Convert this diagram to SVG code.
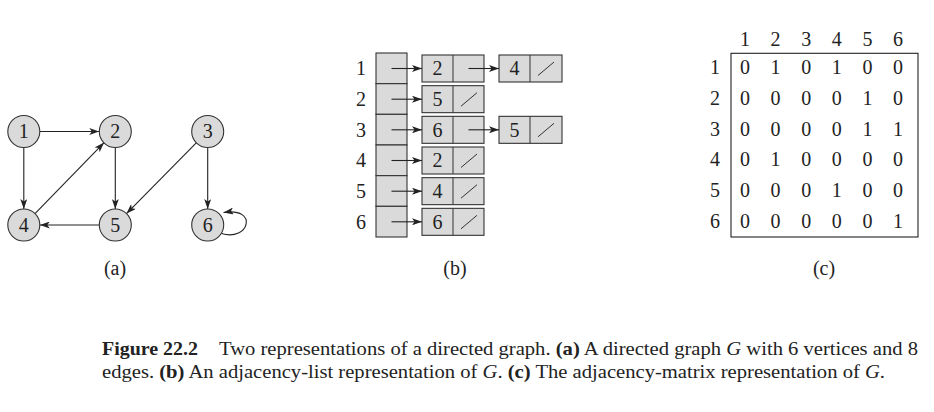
<svg xmlns="http://www.w3.org/2000/svg" width="934" height="412" viewBox="0 0 934 412">
<defs>
<style>
.t{font-family:"Liberation Serif","Times New Roman",serif;font-size:20px;fill:#222;text-anchor:middle}
.cap{font-family:"Liberation Serif","Times New Roman",serif;font-size:19.5px;fill:#222}
.b{font-weight:bold}
.i{font-style:italic}
.nd{fill:#dadada;stroke:#333;stroke-width:1.1}
.e{fill:none;stroke:#222;stroke-width:1.1;marker-end:url(#ah)}
.sl{stroke:#333;stroke-width:1}
.bx{fill:none;stroke:#222;stroke-width:1.1}
</style>
<marker id="ah" viewBox="0 0 10 7" refX="10" refY="3.5" markerWidth="10" markerHeight="7" markerUnits="userSpaceOnUse" orient="auto">
<path d="M0,0 L10,3.5 L0,7 L2.5,3.5 z" fill="#222"/>
</marker>
</defs>
<rect width="934" height="412" fill="#fff"/>

<!-- (a) graph -->
<g id="connectors">
<line class="e" x1="39.8" y1="131.5" x2="99.3" y2="131.5"/>
<line class="e" x1="23.8" y1="147.5" x2="23.8" y2="209"/>
<line class="e" x1="35" y1="213.6" x2="104.1" y2="142.6"/>
<line class="e" x1="115.3" y1="147.5" x2="115.3" y2="209"/>
<line class="e" x1="99.3" y1="225" x2="39.8" y2="225"/>
<line class="e" x1="196.5" y1="142.6" x2="126.5" y2="213.6"/>
<line class="e" x1="207.7" y1="147.5" x2="207.7" y2="209"/>
<path class="e" d="M221.5,233.5 C249,242 259,207 223.5,212.5"/>
</g>
<g id="node1"><circle class="nd" cx="23.8" cy="131.5" r="16"/><text class="t" x="23.8" y="138.3">1</text></g>
<g id="node2"><circle class="nd" cx="115.3" cy="131.5" r="16"/><text class="t" x="115.3" y="138.3">2</text></g>
<g id="node3"><circle class="nd" cx="207.7" cy="131.5" r="16"/><text class="t" x="207.7" y="138.3">3</text></g>
<g id="node4"><circle class="nd" cx="23.8" cy="225" r="16"/><text class="t" x="23.8" y="231.8">4</text></g>
<g id="node5"><circle class="nd" cx="115.3" cy="225" r="16"/><text class="t" x="115.3" y="231.8">5</text></g>
<g id="node6"><circle class="nd" cx="207.7" cy="225" r="16"/><text class="t" x="207.7" y="231.8">6</text></g>
<text class="t" x="115" y="275">(a)</text>

<!-- (b) adjacency list -->
<g id="adjlist">
<g id="array">
<rect class="nd" x="376" y="53" width="31" height="30.67"/>
<rect class="nd" x="376" y="83.67" width="31" height="30.67"/>
<rect class="nd" x="376" y="114.33" width="31" height="30.67"/>
<rect class="nd" x="376" y="145" width="31" height="30.67"/>
<rect class="nd" x="376" y="175.67" width="31" height="30.67"/>
<rect class="nd" x="376" y="206.33" width="31" height="30.67"/>
<text class="t" x="361" y="75.3">1</text>
<text class="t" x="361" y="106">2</text>
<text class="t" x="361" y="136.6">3</text>
<text class="t" x="361" y="167.3">4</text>
<text class="t" x="361" y="198">5</text>
<text class="t" x="361" y="228.6">6</text>
</g>
<g id="listnodes">
<rect class="nd" x="422" y="55" width="62" height="27"/><line class="sl" x1="453" y1="55" x2="453" y2="82"/><text class="t" x="437.5" y="75.3">2</text>
<rect class="nd" x="499" y="55" width="63" height="27"/><line class="sl" x1="530" y1="55" x2="530" y2="82"/><text class="t" x="514.5" y="75.3">4</text><line class="sl" x1="538" y1="75.5" x2="554" y2="62"/>
<rect class="nd" x="422" y="85.67" width="62" height="27"/><line class="sl" x1="453" y1="85.67" x2="453" y2="112.67"/><text class="t" x="437.5" y="106">5</text><line class="sl" x1="461" y1="106.2" x2="477" y2="92.7"/>
<rect class="nd" x="422" y="116.33" width="62" height="27"/><line class="sl" x1="453" y1="116.33" x2="453" y2="143.33"/><text class="t" x="437.5" y="136.6">6</text>
<rect class="nd" x="499" y="116.33" width="63" height="27"/><line class="sl" x1="530" y1="116.33" x2="530" y2="143.33"/><text class="t" x="514.5" y="136.6">5</text><line class="sl" x1="538" y1="136.8" x2="554" y2="123.3"/>
<rect class="nd" x="422" y="147" width="62" height="27"/><line class="sl" x1="453" y1="147" x2="453" y2="174"/><text class="t" x="437.5" y="167.3">2</text><line class="sl" x1="461" y1="167.5" x2="477" y2="154"/>
<rect class="nd" x="422" y="177.67" width="62" height="27"/><line class="sl" x1="453" y1="177.67" x2="453" y2="204.67"/><text class="t" x="437.5" y="198">4</text><line class="sl" x1="461" y1="198.2" x2="477" y2="184.7"/>
<rect class="nd" x="422" y="208.33" width="62" height="27"/><line class="sl" x1="453" y1="208.33" x2="453" y2="235.33"/><text class="t" x="437.5" y="228.6">6</text><line class="sl" x1="461" y1="228.8" x2="477" y2="215.3"/>
</g>
<g id="listarrows">
<line class="e" x1="391.5" y1="68.5" x2="422" y2="68.5"/>
<line class="e" x1="468.5" y1="68.5" x2="499" y2="68.5"/>
<line class="e" x1="391.5" y1="99.2" x2="422" y2="99.2"/>
<line class="e" x1="391.5" y1="129.8" x2="422" y2="129.8"/>
<line class="e" x1="468.5" y1="129.8" x2="499" y2="129.8"/>
<line class="e" x1="391.5" y1="160.5" x2="422" y2="160.5"/>
<line class="e" x1="391.5" y1="191.2" x2="422" y2="191.2"/>
<line class="e" x1="391.5" y1="221.8" x2="422" y2="221.8"/>
</g>
</g>
<text class="t" x="455" y="275">(b)</text>

<!-- (c) adjacency matrix -->
<g id="matrix">
<rect class="bx" x="731" y="53.3" width="187" height="183.7"/>
<g id="colheads">
<text class="t" x="745" y="45.5">1</text><text class="t" x="775.6" y="45.5">2</text><text class="t" x="806.2" y="45.5">3</text><text class="t" x="836.8" y="45.5">4</text><text class="t" x="867.4" y="45.5">5</text><text class="t" x="898" y="45.5">6</text>
</g>
<g id="rowheads">
<text class="t" x="715" y="74">1</text><text class="t" x="715" y="104.8">2</text><text class="t" x="715" y="135.6">3</text><text class="t" x="715" y="166.4">4</text><text class="t" x="715" y="197.2">5</text><text class="t" x="715" y="228">6</text>
</g>
<g id="cells">
<text class="t" x="745" y="74">0</text><text class="t" x="775.6" y="74">1</text><text class="t" x="806.2" y="74">0</text><text class="t" x="836.8" y="74">1</text><text class="t" x="867.4" y="74">0</text><text class="t" x="898" y="74">0</text>
<text class="t" x="745" y="104.8">0</text><text class="t" x="775.6" y="104.8">0</text><text class="t" x="806.2" y="104.8">0</text><text class="t" x="836.8" y="104.8">0</text><text class="t" x="867.4" y="104.8">1</text><text class="t" x="898" y="104.8">0</text>
<text class="t" x="745" y="135.6">0</text><text class="t" x="775.6" y="135.6">0</text><text class="t" x="806.2" y="135.6">0</text><text class="t" x="836.8" y="135.6">0</text><text class="t" x="867.4" y="135.6">1</text><text class="t" x="898" y="135.6">1</text>
<text class="t" x="745" y="166.4">0</text><text class="t" x="775.6" y="166.4">1</text><text class="t" x="806.2" y="166.4">0</text><text class="t" x="836.8" y="166.4">0</text><text class="t" x="867.4" y="166.4">0</text><text class="t" x="898" y="166.4">0</text>
<text class="t" x="745" y="197.2">0</text><text class="t" x="775.6" y="197.2">0</text><text class="t" x="806.2" y="197.2">0</text><text class="t" x="836.8" y="197.2">1</text><text class="t" x="867.4" y="197.2">0</text><text class="t" x="898" y="197.2">0</text>
<text class="t" x="745" y="228">0</text><text class="t" x="775.6" y="228">0</text><text class="t" x="806.2" y="228">0</text><text class="t" x="836.8" y="228">0</text><text class="t" x="867.4" y="228">0</text><text class="t" x="898" y="228">1</text>
</g>
</g>
<text class="t" x="824" y="275">(c)</text>

<!-- caption -->
<g id="caption">
<text class="cap b" x="102" y="354.5" textLength="96" lengthAdjust="spacingAndGlyphs">Figure 22.2</text>
<text class="cap" x="219" y="354.5" textLength="699" lengthAdjust="spacingAndGlyphs">Two representations of a directed graph. <tspan class="b">(a)</tspan> A directed graph <tspan class="i">G</tspan> with 6 vertices and 8</text>
<text class="cap" x="102" y="377.5" textLength="783" lengthAdjust="spacingAndGlyphs">edges. <tspan class="b">(b)</tspan> An adjacency-list representation of <tspan class="i">G</tspan>. <tspan class="b">(c)</tspan> The adjacency-matrix representation of <tspan class="i">G</tspan>.</text>
</g>
</svg>
